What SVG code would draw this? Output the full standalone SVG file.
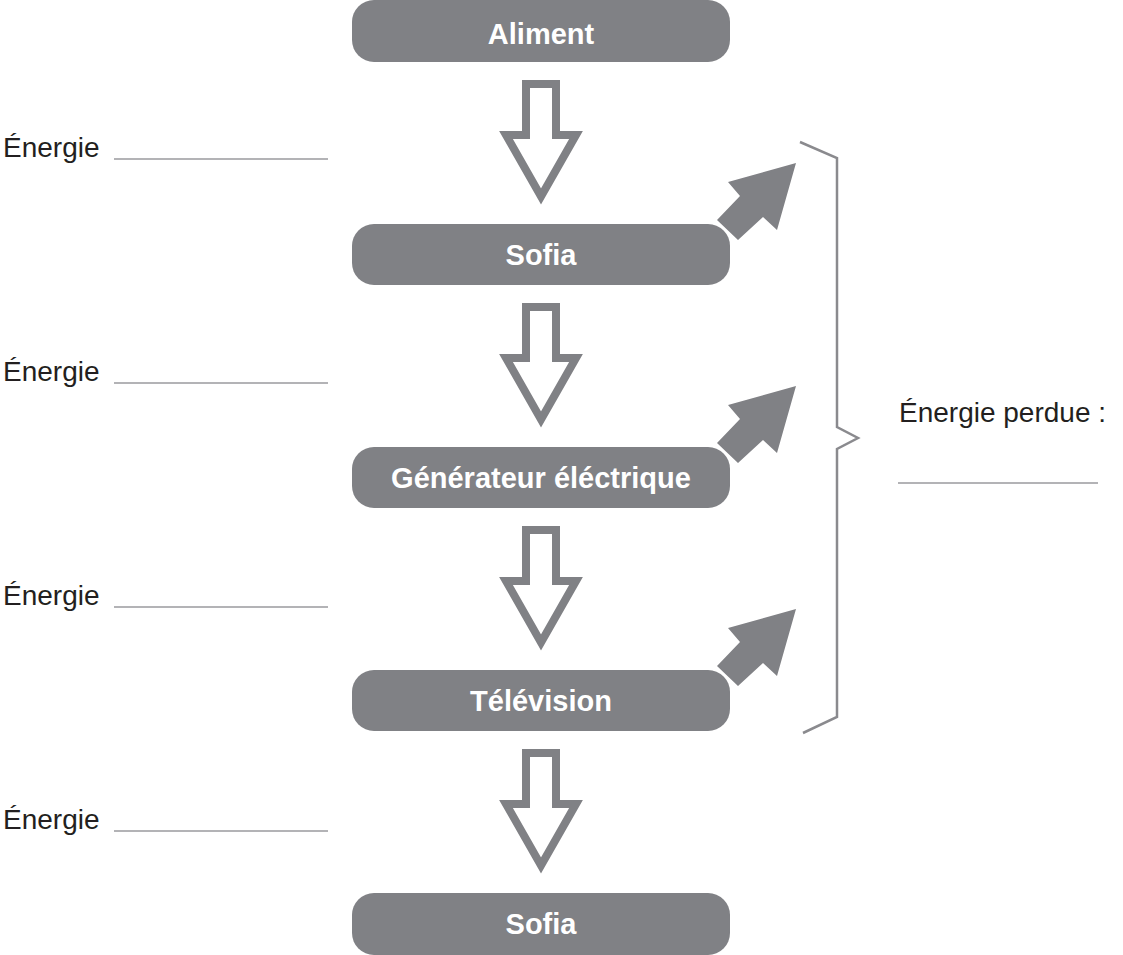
<svg xmlns="http://www.w3.org/2000/svg" xmlns:xlink="http://www.w3.org/1999/xlink" width="1123" height="955" viewBox="0 0 1123 955">
<style>
.box{fill:#808185}
.nt{font-family:"Liberation Sans",Arial,sans-serif;font-weight:bold;font-size:29px;fill:#ffffff;text-anchor:middle}
.lt{font-family:"Liberation Sans",Arial,sans-serif;font-size:28px;fill:#231f20}
.ul{stroke:#9a9a9e;stroke-width:1.3;fill:none}
.hollow{fill:#ffffff;stroke:#808185;stroke-width:8;stroke-linejoin:miter;stroke-miterlimit:10}
.solid{fill:#808185}
.br{fill:none;stroke:#8a8a8e;stroke-width:2.5}
</style>
<defs>
<path id="hollow" d="M -15 4 H 15 V 55 H 35 L 0 116.5 L -35 55 H -15 Z"/>
<path id="diag" d="M 0 0 L -68 19 L -56 33 L -79 57 L -58 77 L -33 54 L -19 67 Z"/>
</defs>
<g id="connectors">
<use xlink:href="#hollow" href="#hollow" x="541" y="80" class="hollow"/>
<use xlink:href="#hollow" href="#hollow" x="541" y="303" class="hollow"/>
<use xlink:href="#hollow" href="#hollow" x="541" y="526" class="hollow"/>
<use xlink:href="#hollow" href="#hollow" x="541" y="749" class="hollow"/>
<use xlink:href="#diag" href="#diag" x="796" y="163" class="solid"/>
<use xlink:href="#diag" href="#diag" x="796" y="386" class="solid"/>
<use xlink:href="#diag" href="#diag" x="796" y="609" class="solid"/>
<path class="br" d="M 800 142 L 837 158 L 837 427 L 858 438 L 837 449 L 837 717 L 803 733"/>
</g>
<g id="node-aliment">
<rect class="box" x="352" y="0" width="378" height="62" rx="22"/>
<text class="nt" x="541" y="44">Aliment</text>
</g>
<g id="node-sofia1">
<rect class="box" x="352" y="224" width="378" height="61" rx="22"/>
<text class="nt" x="541" y="265">Sofia</text>
</g>
<g id="node-generateur">
<rect class="box" x="352" y="447" width="378" height="61" rx="22"/>
<text class="nt" x="541" y="488">Générateur éléctrique</text>
</g>
<g id="node-television">
<rect class="box" x="352" y="670" width="378" height="61" rx="22"/>
<text class="nt" x="541" y="711">Télévision</text>
</g>
<g id="node-sofia2">
<rect class="box" x="352" y="893" width="378" height="62" rx="22"/>
<text class="nt" x="541" y="934">Sofia</text>
</g>
<g id="labels">
<text class="lt" x="3" y="157">Énergie</text>
<line class="ul" x1="114" y1="159" x2="328" y2="159"/>
<text class="lt" x="3" y="381">Énergie</text>
<line class="ul" x1="114" y1="383" x2="328" y2="383"/>
<text class="lt" x="3" y="605">Énergie</text>
<line class="ul" x1="114" y1="607" x2="328" y2="607"/>
<text class="lt" x="3" y="829">Énergie</text>
<line class="ul" x1="114" y1="831" x2="328" y2="831"/>
<text class="lt" x="899" y="422">Énergie perdue :</text>
<line class="ul" x1="898" y1="483" x2="1098" y2="483"/>
</g>
</svg>
